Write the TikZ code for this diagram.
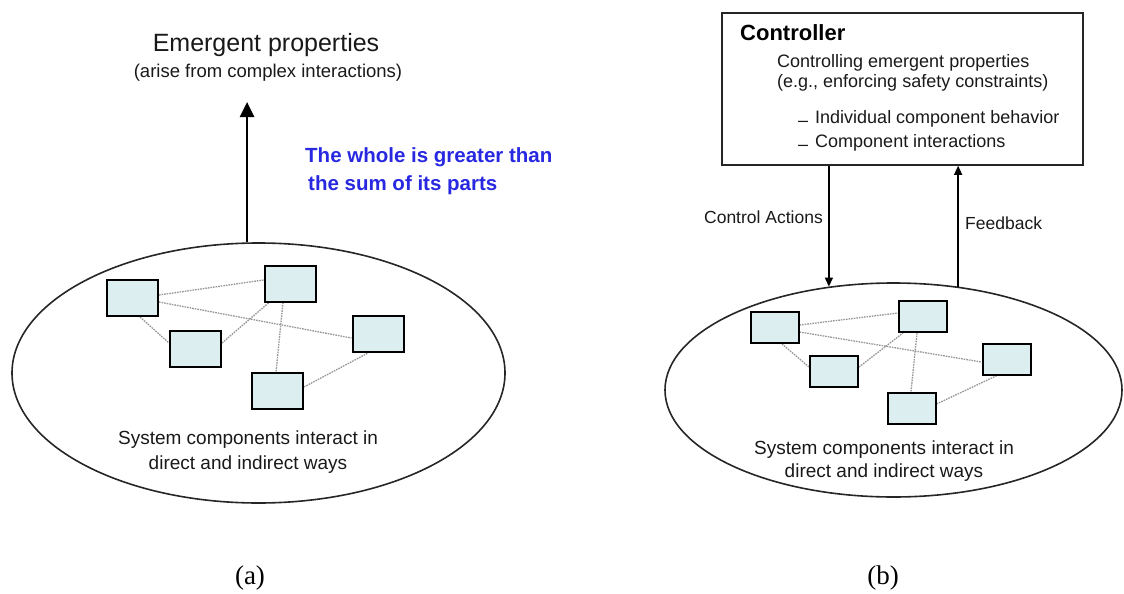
\documentclass[tikz,border=0pt]{standalone}
\usepackage{fontspec}
\setmainfont{Liberation Sans}
\newfontfamily\capfont{Liberation Serif}
\usetikzlibrary{shapes.geometric,arrows.meta,backgrounds}

\definecolor{boxfill}{RGB}{221,238,240}
\definecolor{linkgray}{RGB}{150,150,150}
\definecolor{slogan}{RGB}{40,40,225}
\definecolor{ink}{RGB}{25,25,25}

\begin{document}
\begin{tikzpicture}[x=1pt,y=-1pt,
  comp/.style={draw=black, line width=2pt, fill=boxfill, inner sep=0pt},
  compL/.style={comp, minimum width=51pt, minimum height=36pt},
  compR/.style={comp, minimum width=48pt, minimum height=31pt},
  link/.style={draw=linkgray, line width=1.3pt, dash pattern=on 1.6pt off 1pt},
  sys/.style={draw=black!85, line width=1.6pt, ellipse, inner sep=0pt},
  txt/.style={inner sep=0pt, text=ink, font=\fontsize{18}{21}\selectfont},
  bigarrow/.style={line width=2.6pt, -{Triangle[length=15pt,width=14pt]}},
  ctlarrow/.style={line width=1.3pt, -{Triangle[length=9pt,width=8pt]}},
  caption/.style={inner sep=0pt, font=\capfont\fontsize{27}{30}\selectfont}
]
\useasboundingbox (0,0) rectangle (1124,594);

% ---------- (a) emergent properties ----------
\node[sys, minimum width=493pt, minimum height=260pt] (sysA) at (258.5,373) {};

\node[compL] (l1) at (132.5,298) {};
\node[compL] (l2) at (290,283.5) {};
\node[compL] (l3) at (195.5,348.5) {};
\node[compL] (l4) at (378,334) {};
\node[compL] (l5) at (277.5,391) {};

\begin{pgfonlayer}{background}
\draw[link] ([yshift=3pt]l1.east) -- ([yshift=3.5pt]l2.west);
\draw[link] ([yshift=-4pt]l1.east) -- ([yshift=-4pt]l4.west);
\draw[link] ([xshift=7.5pt]l1.south) -- ([yshift=5.5pt]l3.west);
\draw[link] ([yshift=5.5pt]l3.east) -- ([xshift=-21pt]l2.south);
\draw[link] ([xshift=-7pt]l2.south) -- ([xshift=-1.5pt]l5.north);
\draw[link] ([yshift=4pt]l5.east) -- ([xshift=-10pt]l4.south);
\end{pgfonlayer}

\node[txt, font=\fontsize{19}{25}\selectfont, align=center] (sysAtxt) at (248,452.5)
  {System components interact in\\direct and indirect ways};

\node[txt, font=\fontsize{25}{28}\selectfont] (emerg) at (266,45) {Emergent properties};
\node[txt, font=\fontsize{18.5}{21}\selectfont] (arise) at (268,73) {(arise from complex interactions)};
\coordinate (emtip) at (245,102);
\draw[bigarrow] (sysA.95.9) -- (sysA.95.9 |- emtip);

\node[txt, text=slogan, font=\bfseries\fontsize{20.5}{24}\selectfont, anchor=west] (whole1) at (305,157)
  {The whole is greater than};
\node[txt, text=slogan, font=\bfseries\fontsize{20.5}{24}\selectfont, anchor=west] (whole2) at (308,185)
  {the sum of its parts};

\node[caption] (capA) at (250,578) {(a)};

% ---------- (b) controller ----------
\node[draw=black!85, line width=1.6pt, minimum width=361pt, minimum height=152pt, inner sep=0pt]
  (ctrl) at (902.5,89) {};
\node[txt, text=black, font=\bfseries\fontsize{22}{25}\selectfont, anchor=west] (ctrltitle) at (740,33) {Controller};
\node[txt, anchor=west] (ctrl1) at (777,63) {Controlling emergent properties};
\node[txt, anchor=west] (ctrl2) at (777,83) {(e.g., enforcing safety constraints)};
\node[txt, anchor=west] (ctrl3) at (798,119) {\raisebox{-3pt}{–}\hspace{7pt}Individual component behavior};
\node[txt, anchor=west] (ctrl4) at (798,143) {\raisebox{-3pt}{–}\hspace{7pt}Component interactions};

\node[sys, minimum width=457pt, minimum height=214pt] (sysB) at (893.5,390) {};

\node[compR] (r1) at (774.5,327.5) {};
\node[compR] (r2) at (923,316.5) {};
\node[compR] (r3) at (834,371.5) {};
\node[compR] (r4) at (1006.5,359) {};
\node[compR] (r5) at (911.5,408) {};

\begin{pgfonlayer}{background}
\draw[link] ([yshift=2.5pt]r1.east) -- ([yshift=3.5pt]r2.west);
\draw[link] ([yshift=-4.5pt]r1.east) -- ([yshift=-3pt]r4.west);
\draw[link] ([xshift=7.5pt]r1.south) -- ([yshift=4.5pt]r3.west);
\draw[link] ([yshift=4.5pt]r3.east) -- ([xshift=-20pt]r2.south);
\draw[link] ([xshift=-6pt]r2.south) -- ([xshift=-0.5pt]r5.north);
\draw[link] ([yshift=4pt]r5.east) -- ([xshift=-9.5pt]r4.south);
\end{pgfonlayer}

\node[txt, font=\fontsize{19}{23}\selectfont, align=center] (sysBtxt) at (884,461.5)
  {System components interact in\\direct and indirect ways};

\draw[ctlarrow] (ctrl.south -| sysB.122.8) -- (sysB.122.8);
\draw[ctlarrow] (sysB.58.1) -- (sysB.58.1 |- ctrl.south);
\node[txt, font=\fontsize{17.5}{20}\selectfont, anchor=east] (ctlact) at (823,217) {Control Actions};
\node[txt, font=\fontsize{17.5}{20}\selectfont, anchor=west] (fdbk) at (965,223) {Feedback};

\node[caption] (capB) at (883,578) {(b)};
\end{tikzpicture}
\end{document}
